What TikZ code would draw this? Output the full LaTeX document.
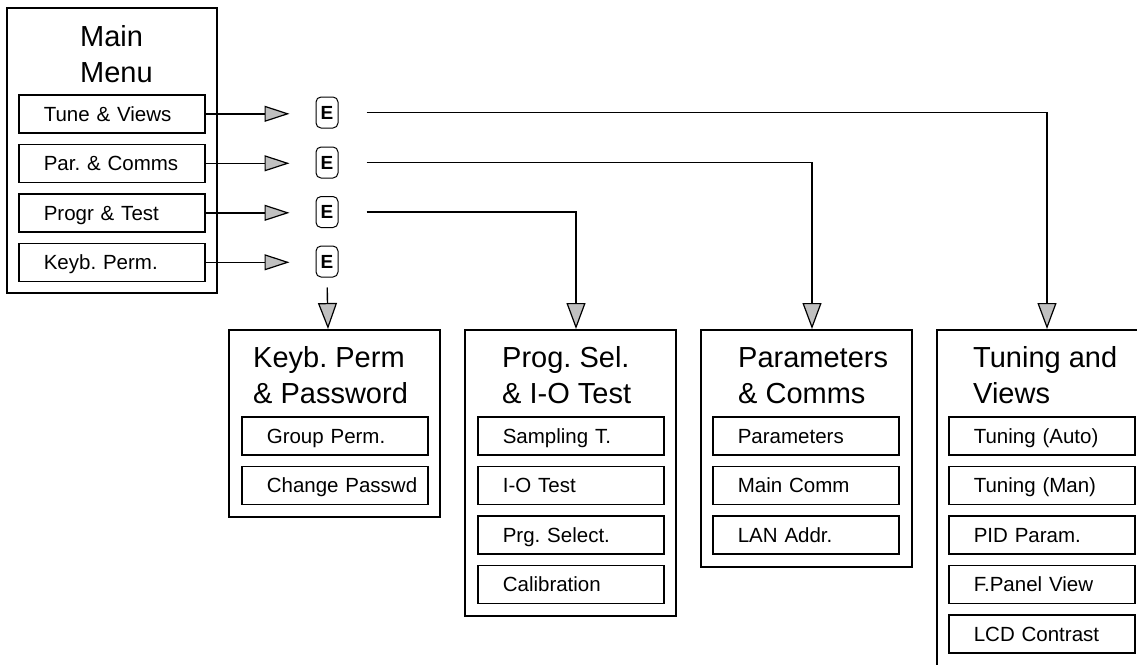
\documentclass[tikz,border=0pt]{standalone}
\usepackage{fontspec}
\setmainfont{Liberation Sans}
\frenchspacing
\usetikzlibrary{arrows.meta}
\definecolor{tipgray}{HTML}{C0C0C0}
\tikzset{
  bigbox/.style={draw, line width=1.6pt, rectangle, anchor=north west, inner sep=0pt},
  subbox/.style={draw, line width=1.6pt, rectangle, anchor=north west, inner xsep=0pt, inner ysep=0pt,
     text width=186pt, minimum height=38pt, align=left, font=\fontsize{20.5}{24}\selectfont,
     text height=14.7pt, text depth=0pt, execute at begin node=\hspace*{25pt}},
  ttl/.style={anchor=base west, align=left, inner sep=0pt, font=\fontsize{29}{36}\selectfont},
  ekey/.style={draw, line width=1pt, rounded corners=5pt, minimum width=22pt, minimum height=31pt,
     inner sep=0pt, font=\bfseries\fontsize{19}{20}\selectfont},
  arr/.style={line width=1.4pt, -{Triangle[length=25pt, width=16pt, fill=tipgray, line width=1.2pt]}},
  varr/.style={line width=1.4pt, -{Triangle[length=26pt, width=19pt, fill=tipgray, line width=1.2pt]}},
}
\begin{document}
\begin{tikzpicture}[x=1pt, y=-1pt]
\useasboundingbox (0,0) rectangle (1137,664);
\clip (0,0) rectangle (1137,664);
% main menu
\node[bigbox, minimum width=210pt, minimum height=285pt] (main) at (6,7) {};
\node[ttl] (mainT) at (80,82) {Main\\Menu};
\node[subbox] (tv) at (18,94) {Tune \& Views};
\node[subbox] (pc) at (18,143.5) {Par. \& Comms};
\node[subbox] (pt) at (18,193) {Progr \& Test};
\node[subbox] (kp) at (18,242.5) {Keyb. Perm.};
% E keys
\node[ekey] (e1) at (327,112.5) {E};
\node[ekey] (e2) at (327,162.5) {E};
\node[ekey] (e3) at (327,212) {E};
\node[ekey] (e4) at (327,261.5) {E};
% bottom boxes
\node[bigbox, minimum width=211pt, minimum height=187pt] (key) at (228,329) {};
\node[ttl] (keyT) at (253,403) {Keyb. Perm\\\& Password};
\node[subbox] (k1) at (241,416) {Group Perm.};
\node[subbox] (k2) at (241,465.5) {Change Passwd};

\node[bigbox, minimum width=211pt, minimum height=286pt] (prog) at (464,329) {};
\node[ttl] (progT) at (502,403) {Prog. Sel.\\\& I-O Test};
\node[subbox] (p1) at (477,416) {Sampling T.};
\node[subbox] (p2) at (477,465.5) {I-O Test};
\node[subbox] (p3) at (477,515) {Prg. Select.};
\node[subbox] (p4) at (477,564.5) {Calibration};

\node[bigbox, minimum width=211pt, minimum height=237pt] (par) at (700,329) {};
\node[ttl] (parT) at (738,403) {Parameters\\\& Comms};
\node[subbox] (q1) at (712,416) {Parameters};
\node[subbox] (q2) at (712,465.5) {Main Comm};
\node[subbox] (q3) at (712,515) {LAN Addr.};

\node[bigbox, minimum width=210pt, minimum height=360pt] (tun) at (936,329) {};
\node[ttl] (tunT) at (973,403) {Tuning and\\Views};
\node[subbox] (t1) at (948,416) {Tuning (Auto)};
\node[subbox] (t2) at (948,465.5) {Tuning (Man)};
\node[subbox] (t3) at (948,515) {PID Param.};
\node[subbox] (t4) at (948,564.5) {F.Panel View};
\node[subbox] (t5) at (948,614) {LCD Contrast};
% entry points
\coordinate (keyIn) at ([xshift=100pt]key.north west);
\coordinate (progIn) at ([xshift=112pt]prog.north west);
\coordinate (parIn) at ([xshift=112pt]par.north west);
\coordinate (tunIn) at ([xshift=111pt]tun.north west);
% connectors
\draw[arr, shorten >=26pt] (tv.east) -- (e1.west |- tv.east);
\draw[arr, shorten >=26pt] (pc.east) -- (e2.west |- pc.east);
\draw[arr, shorten >=26pt] (pt.east) -- (e3.west |- pt.east);
\draw[arr, shorten >=26pt] (kp.east) -- (e4.west |- kp.east);
\draw[varr, shorten <=28pt] (e1.east) -- (e1.east -| tunIn) -- (tunIn);
\draw[varr, shorten <=28pt] (e2.east) -- (e2.east -| parIn) -- (parIn);
\draw[varr, shorten <=28pt] (e3.east) -- (e3.east -| progIn) -- (progIn);
\draw[varr, shorten <=10pt] (e4.south) -- (keyIn);
\end{tikzpicture}
\end{document}
